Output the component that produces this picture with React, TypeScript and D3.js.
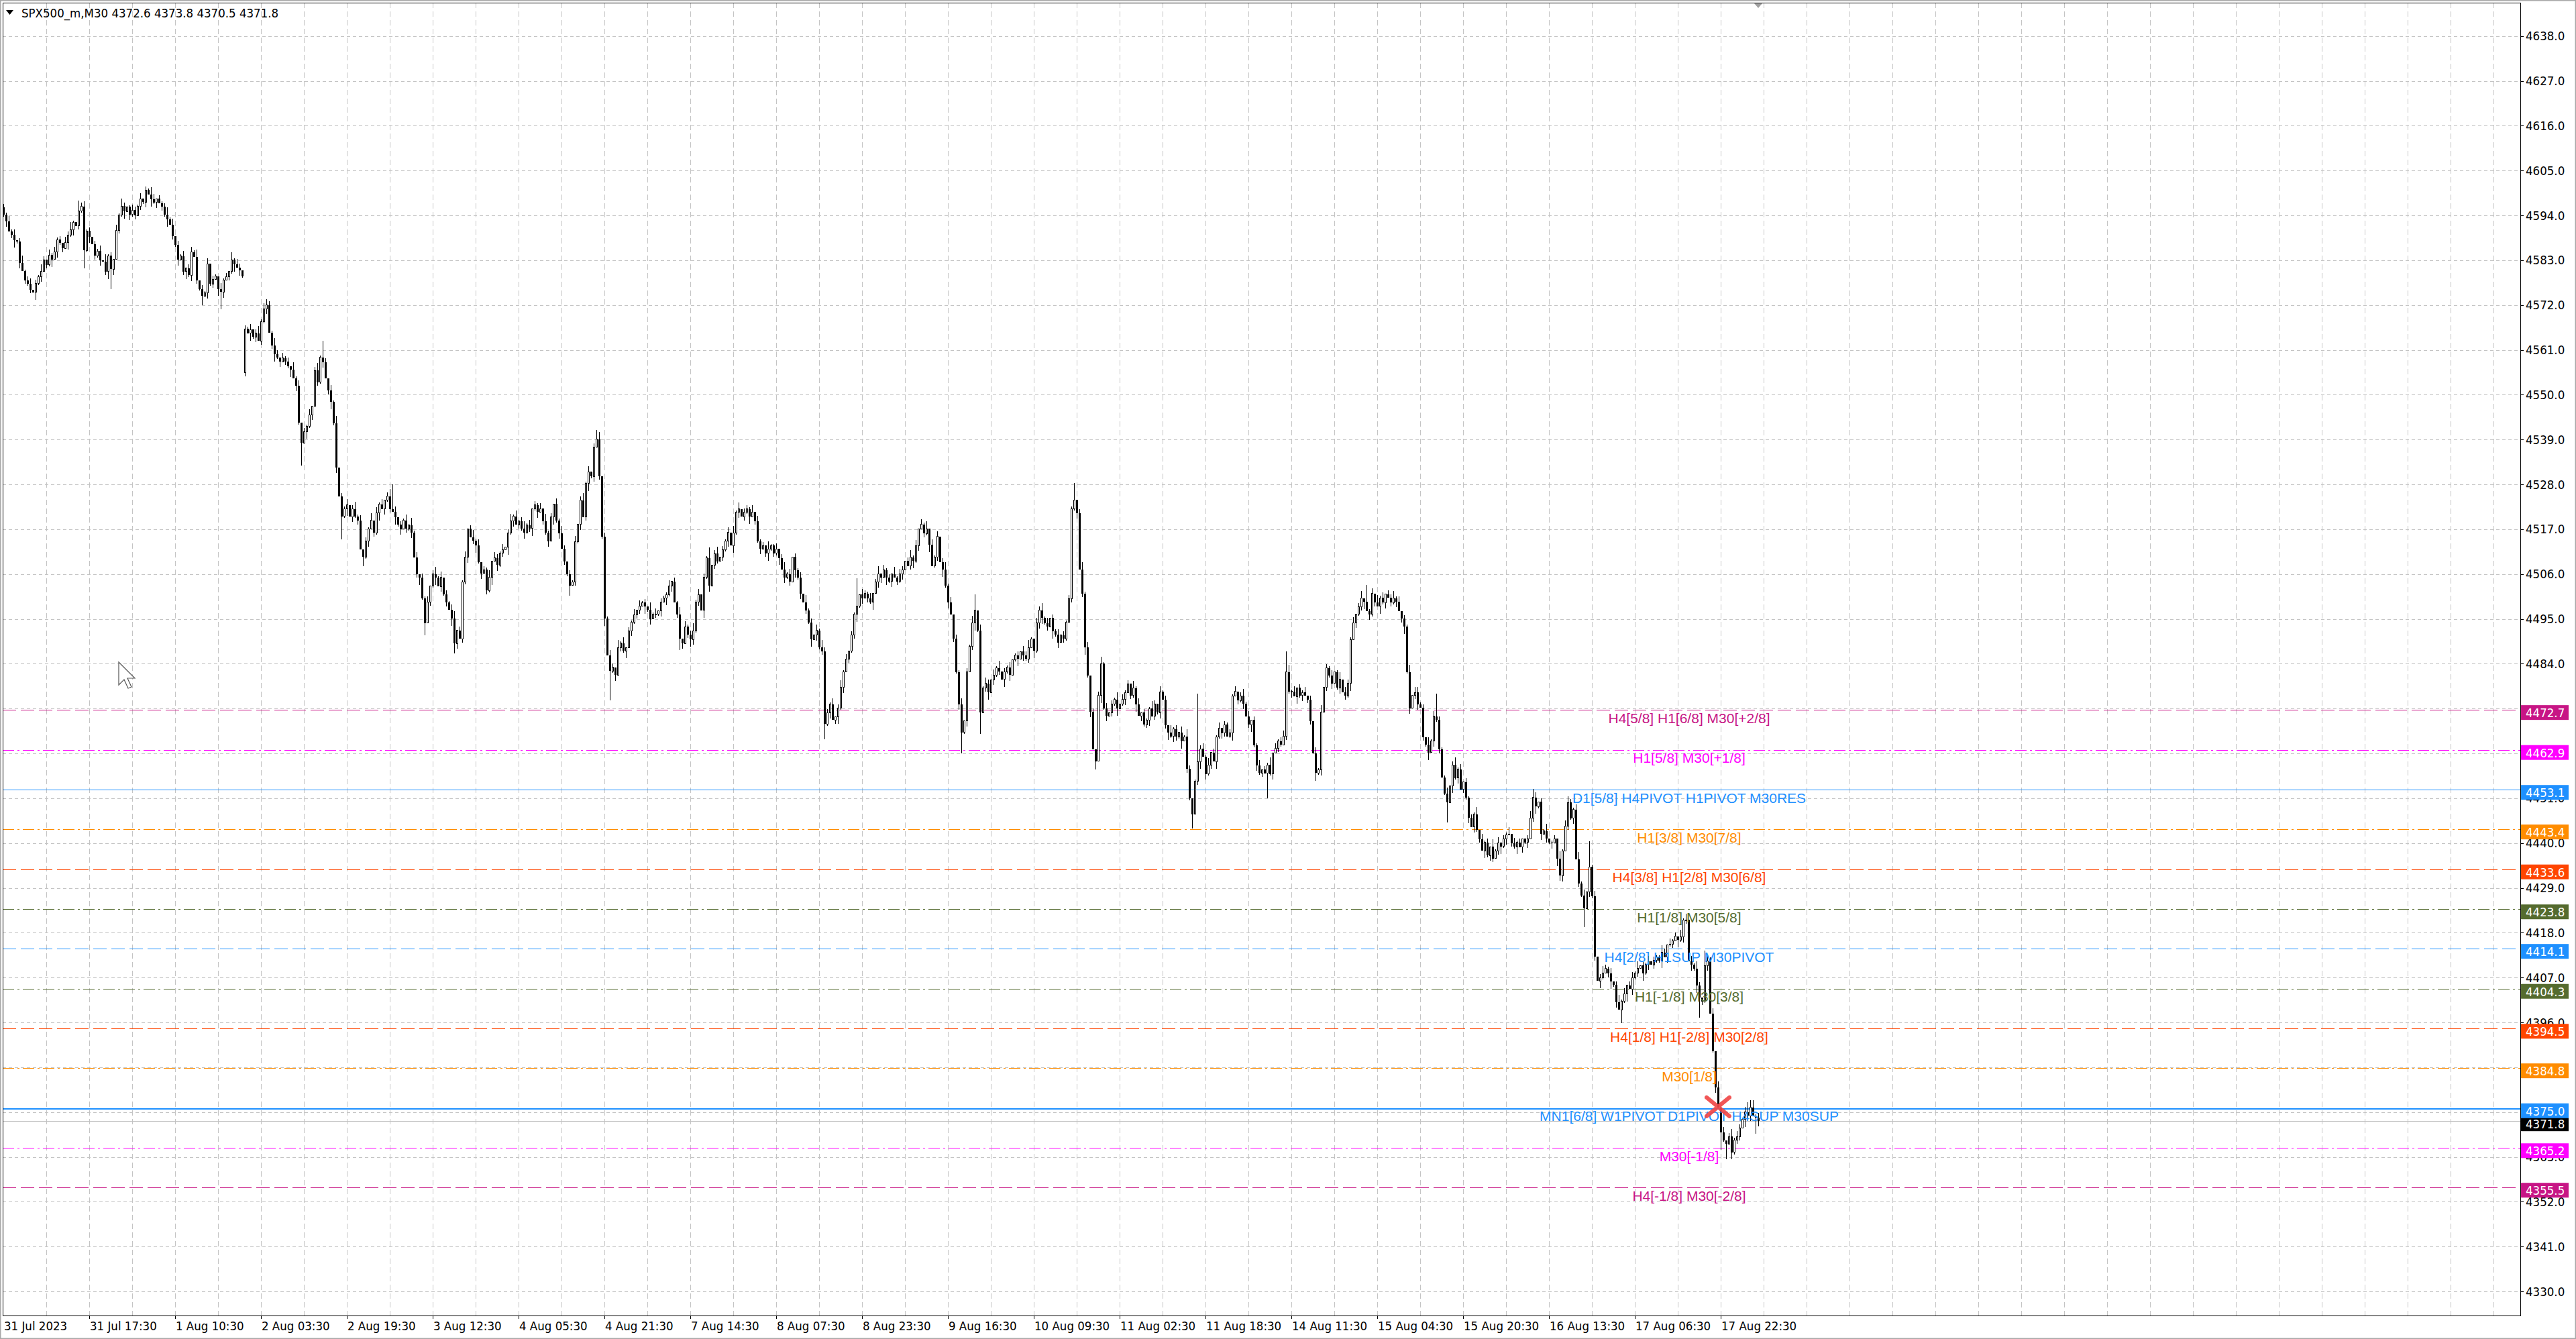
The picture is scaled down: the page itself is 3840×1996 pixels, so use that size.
import React, {useEffect} from 'react'
import * as d3 from 'd3'

const W = 3840
const H = 1996
const plot = {left: 4, top: 4, right: 3757, bottom: 1961}

// header
const symbolName = 'SPX500_m,M30'
const lastOHLC = [4372.6, 4373.8, 4370.5, 4371.8]

// bottom time labels, one every 32 bars
const timeLabels = [
  '31 Jul 2023', '31 Jul 17:30', '1 Aug 10:30', '2 Aug 03:30', '2 Aug 19:30',
  '3 Aug 12:30', '4 Aug 05:30', '4 Aug 21:30', '7 Aug 14:30', '8 Aug 07:30',
  '8 Aug 23:30', '9 Aug 16:30', '10 Aug 09:30', '11 Aug 02:30', '11 Aug 18:30',
  '14 Aug 11:30', '15 Aug 04:30', '15 Aug 20:30', '16 Aug 13:30', '17 Aug 06:30',
  '17 Aug 22:30',
]

const priceTicks = [
  4638, 4627, 4616, 4605, 4594, 4583, 4572, 4561, 4550, 4539, 4528, 4517, 4506,
  4495, 4484, 4473, 4462, 4451, 4440, 4429, 4418, 4407, 4396, 4385, 4374, 4363,
  4352, 4341, 4330,
]

// M30 closes, week by week
const closesWeek1 = [
  4594.2, 4592.5, 4590.1, 4589.3, 4588.0, 4587.6, 4582.4, 4580.3, 4578.1, 4577.2,
  4575.8, 4575.1, 4577.4, 4579.0, 4580.2, 4583.1, 4581.9, 4584.3, 4583.2, 4585.0,
  4588.1, 4587.2, 4585.9, 4587.4, 4589.2, 4590.5, 4592.3, 4591.4, 4595.1, 4596.2,
  4585.4, 4590.2, 4588.7, 4586.9, 4584.1, 4585.3, 4583.0, 4582.6, 4580.2, 4584.1,
  4580.8, 4583.2, 4590.4, 4594.1, 4596.3, 4595.0, 4596.1, 4594.2, 4595.3, 4594.0,
  4596.2, 4598.1, 4597.3, 4600.2, 4599.1, 4598.0, 4597.2, 4598.1, 4597.0, 4596.1,
  4594.2, 4593.1, 4591.8, 4589.0, 4586.8, 4583.1, 4584.0, 4580.2, 4581.1, 4579.3,
  4585.0, 4583.8, 4578.1, 4576.0, 4574.2, 4575.0, 4582.1, 4577.2, 4578.3, 4579.1,
  4576.0, 4575.2, 4578.1, 4579.0, 4580.2, 4583.1, 4582.0, 4581.2, 4580.6, 4579.1,
  4566.2, 4565.1, 4566.0, 4564.2, 4565.1, 4563.2, 4568.0, 4571.1, 4572.0, 4565.2,
  4562.1, 4560.0, 4559.2, 4558.1, 4559.0, 4558.2, 4557.0, 4556.1, 4554.0, 4552.2,
  4543.1, 4538.2, 4541.0, 4542.3, 4545.1, 4547.2, 4556.0, 4553.1, 4559.2, 4558.0,
  4554.1, 4551.0, 4548.2, 4543.0, 4532.1, 4525.0, 4520.2, 4522.1, 4523.0, 4520.1,
  4522.0, 4520.2, 4519.1, 4512.0, 4510.2, 4514.1, 4517.0, 4519.2, 4516.1, 4521.0,
  4523.1, 4522.0, 4524.2, 4525.1, 4522.0, 4521.2, 4520.0, 4518.1, 4517.0, 4519.2,
  4517.1, 4518.0, 4516.2, 4510.1, 4506.0, 4505.2, 4500.1, 4494.0, 4499.2, 4503.1,
  4506.0, 4505.1, 4503.0, 4505.2, 4501.1, 4499.0, 4497.2, 4495.1, 4489.0, 4492.2,
  4490.1, 4504.0, 4510.2, 4517.1, 4515.0, 4514.2, 4513.1, 4509.0, 4506.2, 4507.1,
  4502.0, 4505.2, 4509.1, 4510.0, 4508.2, 4511.1, 4512.0, 4512.6, 4516.1, 4519.0,
  4520.2, 4518.1, 4519.0, 4517.2, 4516.1, 4518.0, 4517.2, 4522.1, 4523.0, 4521.2,
  4522.1, 4519.0, 4516.2, 4514.1, 4520.0, 4523.2, 4519.1, 4516.0, 4512.2, 4509.1,
  4506.0, 4503.2, 4504.1, 4514.0, 4518.2, 4524.1, 4520.0, 4528.2, 4531.1, 4530.0,
  4537.2, 4539.1, 4530.0, 4515.2, 4495.1, 4486.0, 4482.2,
]
const closesWeek2 = [
  4483.1, 4481.2, 4488.0, 4489.1, 4487.2, 4488.0, 4492.1, 4494.2, 4496.0, 4497.1,
  4498.2, 4499.0, 4498.1, 4497.2, 4495.0, 4496.1, 4496.2, 4497.0, 4499.1, 4500.2,
  4501.0, 4503.1, 4504.2, 4499.0, 4496.1, 4490.2, 4489.0, 4493.1, 4491.2, 4490.0,
  4492.1, 4499.2, 4501.0, 4497.1, 4505.2, 4510.0, 4503.1, 4508.2, 4511.0, 4509.1,
  4510.2, 4512.0, 4514.1, 4516.2, 4513.0, 4516.1, 4521.2, 4522.0, 4520.1, 4521.2,
  4522.0, 4520.1, 4521.2, 4519.0, 4514.1, 4512.2, 4513.0, 4511.1, 4512.2, 4513.0,
  4511.1, 4512.2, 4510.0, 4507.1, 4505.2, 4506.0, 4504.1, 4510.2, 4507.0, 4505.1,
  4501.2, 4499.0, 4497.1, 4494.2, 4490.0, 4491.1, 4492.2, 4488.0, 4487.1, 4469.2,
  4472.0, 4474.1, 4470.2, 4471.0, 4473.1, 4478.2, 4482.0, 4485.1, 4487.2, 4491.0,
  4496.1, 4498.2, 4501.0, 4500.1, 4501.2, 4500.0, 4499.1, 4501.2, 4504.0, 4506.1,
  4505.2, 4507.0, 4505.1, 4504.2, 4506.0, 4505.1, 4504.2, 4506.0, 4507.1, 4509.2,
  4508.0, 4510.1, 4509.2, 4513.0, 4517.1, 4518.2, 4516.0, 4517.1, 4513.2, 4508.0,
  4510.1, 4515.2, 4509.0, 4507.1, 4503.2, 4499.0, 4496.1, 4490.2, 4482.0, 4474.1,
  4467.2, 4470.0, 4482.1, 4488.2, 4494.0, 4497.1, 4492.2, 4472.0, 4478.1, 4479.2,
  4477.0, 4480.1, 4481.2, 4483.0, 4482.1, 4480.2, 4482.0, 4483.1, 4481.2, 4485.0,
  4486.1, 4485.2, 4487.0, 4486.1, 4485.2, 4488.0, 4490.1, 4487.2, 4494.0, 4497.1,
  4495.2, 4494.0, 4493.1, 4495.2, 4492.0, 4491.1, 4489.2, 4491.0, 4490.1, 4494.2,
  4500.0, 4522.1, 4524.2, 4521.0, 4507.1, 4501.2, 4488.0, 4481.1, 4472.2, 4463.0,
  4460.1, 4476.2, 4484.0, 4473.1, 4471.2, 4472.0, 4474.1, 4475.2, 4473.0, 4474.1,
  4475.2, 4477.0, 4479.1, 4476.2, 4478.0, 4474.1, 4471.2, 4472.0, 4469.1, 4470.2,
  4473.0, 4471.1, 4474.2, 4472.0, 4477.1, 4475.2, 4469.0, 4467.1, 4466.2, 4468.0,
  4466.1, 4467.2, 4465.0, 4466.1, 4458.2, 4451.0, 4447.1, 4455.2, 4460.0, 4463.1,
  4461.2, 4457.0, 4459.1, 4462.2, 4460.0, 4466.1, 4468.2, 4467.0, 4469.1, 4466.2,
]
const closesWeek3 = [
  4467.0, 4476.1, 4477.2, 4475.0, 4476.1, 4474.2, 4471.0, 4469.1, 4470.2, 4464.0,
  4459.1, 4457.2, 4458.0, 4457.1, 4459.2, 4457.0, 4462.1, 4463.2, 4465.0, 4464.1,
  4466.2, 4482.0, 4477.1, 4477.2, 4476.0, 4478.1, 4476.2, 4477.0, 4476.1, 4475.2,
  4470.0, 4462.1, 4457.2, 4458.0, 4472.1, 4478.2, 4483.0, 4481.1, 4479.2, 4482.0,
  4478.1, 4480.2, 4477.0, 4476.1, 4479.2, 4490.0, 4494.1, 4496.2, 4498.0, 4500.1,
  4499.2, 4497.0, 4496.1, 4501.2, 4499.0, 4498.1, 4500.2, 4499.0, 4501.1, 4500.2,
  4499.0, 4500.1, 4499.2, 4497.0, 4495.1, 4493.2, 4482.0, 4473.1, 4476.2, 4477.0,
  4474.1, 4473.2, 4466.0, 4464.1, 4462.2, 4465.0, 4471.1, 4470.2, 4463.0, 4456.1,
  4452.2, 4450.0, 4454.1, 4459.2, 4456.0, 4458.1, 4453.2, 4455.0, 4451.1, 4446.2,
  4444.0, 4447.1, 4443.2, 4441.0, 4438.1, 4440.2, 4437.0, 4439.1, 4436.2, 4438.0,
  4440.1, 4439.2, 4441.0, 4442.1, 4442.2, 4440.0, 4439.1, 4440.2, 4439.0, 4441.1,
  4440.2, 4441.0, 4446.1, 4451.2, 4449.0, 4450.1, 4442.2, 4443.0, 4441.1, 4440.2,
  4440.0, 4441.1, 4436.2, 4432.0, 4438.1, 4444.2, 4450.0, 4446.1, 4448.2, 4436.0,
  4430.1, 4427.2, 4424.0, 4428.1, 4434.2, 4427.0, 4412.1, 4406.2, 4407.0, 4408.1,
  4409.2, 4408.0, 4406.1, 4405.2, 4401.0, 4399.1, 4401.2, 4403.0, 4405.1, 4404.2,
  4407.0, 4408.1, 4409.2, 4410.0, 4408.1, 4410.2, 4411.0, 4410.1, 4411.2, 4412.0,
  4411.1, 4413.2, 4412.0, 4415.1, 4415.2, 4416.0, 4417.1, 4416.2, 4417.0, 4421.1,
  4421.2, 4411.0, 4410.1, 4409.2, 4405.0, 4402.1, 4401.2, 4410.0, 4411.1, 4398.2,
  4389.0, 4380.1, 4375.2, 4369.0, 4367.1, 4366.2, 4368.0, 4364.1, 4367.2, 4368.0,
  4370.1, 4372.2, 4374.0, 4373.1, 4375.2, 4373.0, 4372.6, 4371.8,
]
const firstOpen = 4596.0
const gapOpens: [number, number][] = [[90, 4555.5]]

// ordinary wick lengths, one digit per bar (units of wickUnit points)
const upWicksWeek1 =
  '2131302412 3021420313 1203241032 3120213041 2031420132 1302143021 2413021302 3140213021 0312041320 2130241302 1420312041 3021302413 2031402130 2413021403 1302413021 3041302130 2413021340 2130241302 1403213024 1302413021 3041203142 0213024130 2140213'
const downWicksWeek1 =
  '1302413021 2041302140 3120413021 4130213024 1302140312 0213041302 1402130241 3021403120 4130214031 2041302130 2413021403 1204130213 0241302140 3120413021 4031204130 2130241302 1403120413 0213024130 2140312041 3021302413 0213041302 1402130241 3021403'
const upWicksWeek2 =
  '2041302130 3120413021 1302140312 4130213024 0213041302 2140312041 1302413021 3041203142 2130241302 1403213024 0312041320 2413021403 1302413021 3021420313 2031402130 1203241032 4130213021 2130241302 0241302140 3120413021 1420312041 2031420132 3140213021'
const downWicksWeek2 =
  '1302140312 2041302130 4130213024 3120413021 0213041302 1402130241 2140312041 3021403120 1302413021 2413021403 3041302130 0241302140 1204130213 2130241302 4031204130 1403120413 3120413021 0213024130 2041302140 1302140312 3021302413 2140213024 0312041320'
const upWicksWeek3 =
  '2130241302 1302140312 3041302130 2031402130 1403213024 0213041302 2413021403 3120413021 1302413021 2140312041 3021403120 0241302140 1204130213 4130213024 2130241302 3140213021 1420312041 2031420132 3021302413 21302413'
const downWicksWeek3 =
  '1402130241 3120413021 0213041302 2041302130 1302140312 4031204130 2130241302 3021403120 1204130213 0312041320 2413021403 1302413021 3041302130 2140312041 0241302140 3120413021 1403120413 2031402130 1302140312 20413021'
const wickUnit = 0.45

// long wicks: [bar, price]
const spikeHighs: [number, number][] = [
  [28, 4597.7], [53, 4601.1], [98, 4573.4], [119, 4563.3], [145, 4528.0],
  [221, 4541.4], [263, 4512.6], [274, 4523.5], [318, 4505.0], [342, 4519.4],
  [362, 4501.0], [399, 4528.3], [445, 4476.7], [478, 4487.0], [508, 4503.4],
  [534, 4476.7], [570, 4453.3], [583, 4451.5], [591, 4440.5], [627, 4422.7],
  [634, 4413.6], [639, 4381.6], [650, 4376.4], [651, 4376.9],
]
const spikeLows: [number, number][] = [
  [30, 4581.0], [40, 4576.0], [74, 4572.0], [81, 4571.0], [111, 4532.6],
  [126, 4514.6], [134, 4507.9], [157, 4491.0], [168, 4486.5], [211, 4500.7],
  [226, 4475.1], [252, 4487.3], [306, 4465.5], [357, 4462.0], [364, 4466.8],
  [407, 4458.0], [443, 4443.6], [471, 4451.0], [489, 4455.2], [538, 4445.0],
  [580, 4430.7], [589, 4419.4], [603, 4395.8], [632, 4397.2], [640, 4364.8],
  [642, 4362.4], [644, 4362.4], [653, 4368.7],
]

// Murrey / pivot levels
const levelPrices = [
  4472.7, 4462.9, 4453.1, 4443.4, 4433.6, 4423.8, 4414.1, 4404.3, 4394.5, 4384.8,
  4375.0, 4365.2, 4355.5,
]
const levelLabels = [
  'H4[5/8] H1[6/8] M30[+2/8]',
  'H1[5/8] M30[+1/8]',
  'D1[5/8] H4PIVOT H1PIVOT M30RES',
  'H1[3/8] M30[7/8]',
  'H4[3/8] H1[2/8] M30[6/8]',
  'H1[1/8] M30[5/8]',
  'H4[2/8] H1SUP M30PIVOT',
  'H1[-1/8] M30[3/8]',
  'H4[1/8] H1[-2/8] M30[2/8]',
  'M30[1/8]',
  'MN1[6/8] W1PIVOT D1PIVOT H4SUP M30SUP',
  'M30[-1/8]',
  'H4[-1/8] M30[-2/8]',
]
const levelColors = [
  '#C71585', '#FF00FF', '#1E90FF', '#FF8C00', '#FF4500', '#556B2F', '#1E90FF',
  '#556B2F', '#FF4500', '#FF8C00', '#1E90FF', '#FF00FF', '#C71585',
]
const levelDash = [
  '20 7', '17 5 3 5', null, '17 5 3 5', '20 7', '17 5 3 5', '20 7', '17 5 3 5',
  '20 7', '17 5 3 5', null, '17 5 3 5', '20 7',
]
const levelWidth = [1, 1, 1, 1, 1, 1, 1, 1, 1, 1, 2, 1, 1]
const labelBar = 628.25
const crossBar = 639
const crossPrice = 4375.3

const axisFont = '"DejaVu Sans Condensed", "DejaVu Sans", sans-serif'
const levelFont = '"Liberation Sans", Arial, sans-serif'
const axisSize = 18.5

const wickRun = (s: string, n: number) => {
  const d = s.replace(/\s/g, '').split('').map(Number)
  return Array.from({length: n}, (_, k) => (d[k] === undefined ? 2 : d[k]))
}

function App() {
  useEffect(() => {
    document.body.style.margin = '0'
    document.body.style.overflow = 'hidden'
  }, [])

  const closes = [...closesWeek1, ...closesWeek2, ...closesWeek3]
  const ups = [
    ...wickRun(upWicksWeek1, closesWeek1.length),
    ...wickRun(upWicksWeek2, closesWeek2.length),
    ...wickRun(upWicksWeek3, closesWeek3.length),
  ]
  const downs = [
    ...wickRun(downWicksWeek1, closesWeek1.length),
    ...wickRun(downWicksWeek2, closesWeek2.length),
    ...wickRun(downWicksWeek3, closesWeek3.length),
  ]
  const gapMap = new Map(gapOpens)
  const hiMap = new Map(spikeHighs)
  const loMap = new Map(spikeLows)
  const last = closes.length - 1

  const bars = closes.map((c, i) => {
    if (i === last) {
      return {i, o: lastOHLC[0], h: lastOHLC[1], l: lastOHLC[2], c: lastOHLC[3]}
    }
    const o = i === 0 ? firstOpen : gapMap.has(i) ? (gapMap.get(i) as number) : closes[i - 1]
    let h = Math.max(o, c) + ups[i] * wickUnit
    let l = Math.min(o, c) - downs[i] * wickUnit
    if (hiMap.has(i)) h = Math.max(h, hiMap.get(i) as number)
    if (loMap.has(i)) l = Math.min(l, loMap.get(i) as number)
    return {i, o, h, l, c}
  })

  // 4 px per bar, first bar at x=5
  const x = d3.scaleLinear().domain([0, 938]).range([5, plot.right])
  const y = d3.scaleLinear().domain([4324.1, 4646.2]).range([plot.bottom, plot.top])

  const gridBars = d3.range(16, 939, 16)
  const currentPrice = lastOHLC[3]
  const lastX = x(last)

  // price boxes sit a few px below their level; tick labels fully under a box are not drawn
  const boxCenters = [...levelPrices, currentPrice].map(p => y(p) + 4)
  const visibleTicks = priceTicks.filter(t => boxCenters.every(c => Math.abs(y(t) - c) > 8))

  return (
    <svg
      width={W}
      height={H}
      style={{position: 'fixed', left: 0, top: 0, background: '#fff'}}
      fontFamily={axisFont}>
      <rect x={0} y={0} width={W} height={H} fill="#fff" />

      {/* grid */}
      <g stroke="#c4c4c4" strokeWidth={1} shapeRendering="crispEdges">
        {priceTicks.map(t => (
          <line
            key={'h' + t}
            x1={plot.left}
            x2={plot.right}
            y1={Math.round(y(t)) + 0.5}
            y2={Math.round(y(t)) + 0.5}
            strokeDasharray="5 4"
          />
        ))}
        {gridBars.map(b => (
          <line
            key={'v' + b}
            x1={Math.round(x(b)) + 0.5}
            x2={Math.round(x(b)) + 0.5}
            y1={plot.top}
            y2={plot.bottom}
            strokeDasharray="8 5"
          />
        ))}
      </g>

      {/* levels */}
      <g shapeRendering="crispEdges">
        {levelPrices.map((p, k) => (
          <line
            key={'l' + k}
            x1={plot.left}
            x2={plot.right}
            y1={Math.round(y(p)) + 0.5}
            y2={Math.round(y(p)) + 0.5}
            stroke={levelColors[k]}
            strokeWidth={levelWidth[k]}
            strokeDasharray={levelDash[k] || undefined}
          />
        ))}
        <line
          x1={plot.left}
          x2={plot.right}
          y1={Math.round(y(currentPrice)) + 0.5}
          y2={Math.round(y(currentPrice)) + 0.5}
          stroke="#c0c0c0"
        />
      </g>

      {/* candles */}
      <g shapeRendering="crispEdges">
        {bars.map(b => {
          const cx = Math.round(x(b.i))
          const top = y(Math.max(b.o, b.c))
          const bot = y(Math.min(b.o, b.c))
          const bull = b.c >= b.o
          return (
            <g key={b.i}>
              <line x1={cx + 0.5} x2={cx + 0.5} y1={y(b.h)} y2={y(b.l)} stroke="#000" />
              {bull ? (
                <rect
                  x={cx - 0.5}
                  y={top}
                  width={2}
                  height={Math.max(bot - top, 1)}
                  fill="#fff"
                  stroke="#000"
                />
              ) : (
                <rect x={cx - 1} y={top} width={3} height={Math.max(bot - top, 1)} fill="#000" />
              )}
            </g>
          )
        })}
      </g>

      {/* level captions */}
      <g fontFamily={levelFont} fontSize={21} textAnchor="middle">
        {levelPrices.map((p, k) => (
          <text key={'t' + k} x={x(labelBar)} y={y(p) + 19.5} fill={levelColors[k]}>
            {levelLabels[k]}
          </text>
        ))}
      </g>

      {/* red cross marker */}
      <g
        transform={`translate(${x(crossBar)},${y(crossPrice)})`}
        stroke="#f04848"
        strokeWidth={6}
        strokeLinecap="round"
        opacity={0.92}>
        <line x1={-17} y1={-14} x2={17} y2={14} />
        <line x1={-17} y1={14} x2={17} y2={-14} />
      </g>

      {/* right price axis */}
      <g fontSize={axisSize} fill="#000">
        {priceTicks.map(t => (
          <line
            key={'m' + t}
            x1={plot.right}
            x2={plot.right + 5}
            y1={Math.round(y(t)) + 0.5}
            y2={Math.round(y(t)) + 0.5}
            stroke="#000"
          />
        ))}
        {visibleTicks.map(t => (
          <text key={'a' + t} x={3765} y={y(t) + 6.5}>
            {t.toFixed(1)}
          </text>
        ))}
      </g>

      {/* price boxes */}
      <g fontSize={axisSize} fill="#fff">
        <rect x={3758} y={y(currentPrice) - 6} width={71} height={21} fill="#000" />
        <text x={3765} y={y(currentPrice) + 11} fill="#fff">
          {currentPrice.toFixed(1)}
        </text>
        {levelPrices.map((p, k) => (
          <g key={'b' + k}>
            <rect x={3758} y={y(p) - 7} width={71} height={22} fill={levelColors[k]} />
            <text x={3765} y={y(p) + 11} fill="#fff">
              {p.toFixed(1)}
            </text>
          </g>
        ))}
      </g>

      {/* bottom time axis */}
      <g fontSize={axisSize} fill="#000">
        {timeLabels.map((lab, k) => {
          const tx = Math.round(x(k * 32))
          return (
            <g key={'x' + k}>
              {k > 0 && (
                <line x1={tx + 0.5} x2={tx + 0.5} y1={plot.bottom} y2={plot.bottom + 5} stroke="#000" />
              )}
              <text x={k === 0 ? 6 : tx + 1} y={1983}>
                {lab}
              </text>
            </g>
          )
        })}
      </g>

      {/* plot frame */}
      <rect
        x={plot.left + 0.5}
        y={plot.top + 0.5}
        width={plot.right - plot.left}
        height={plot.bottom - plot.top}
        fill="none"
        stroke="#000"
        strokeWidth={1.5}
        shapeRendering="crispEdges"
      />
      <rect x={0.5} y={0.5} width={W - 1} height={H - 1} fill="none" stroke="#a8a8a8" strokeWidth={2} />
      {/* chart shift marker */}
      <path d={`M${lastX - 6},${plot.top + 1} L${lastX + 6},${plot.top + 1} L${lastX},${plot.top + 8} Z`} fill="#a0a0a0" />

      {/* header */}
      <path d="M9,15 L20,15 L14.5,22 Z" fill="#000" />
      <text x={32} y={26} fontSize={axisSize} fill="#000">
        {symbolName}
        {'  '}
        {lastOHLC.map(v => v.toFixed(1)).join(' ')}
      </text>

      {/* mouse pointer */}
      <path
        d="M177,987 L177,1021 L185,1013 L191,1026 L196,1024 L190,1011 L201,1011 Z"
        fill="#fff"
        stroke="#555"
        strokeWidth={1.2}
      />
    </svg>
  )
}

export default App
